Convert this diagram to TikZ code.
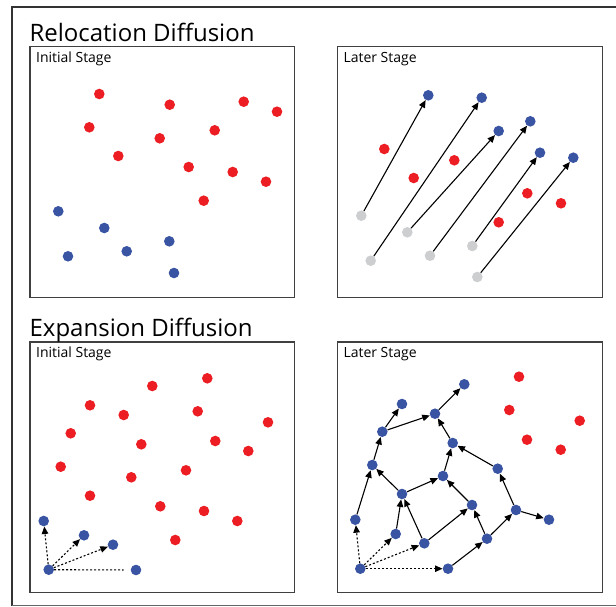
\documentclass[tikz,border=0pt]{standalone}
\usepackage{fontspec}
\setmainfont{Open Sans}
\usetikzlibrary{arrows.meta, positioning}

\definecolor{dotred}{RGB}{236,30,36}
\definecolor{dotblue}{RGB}{58,84,164}
\definecolor{dotgray}{RGB}{205,206,207}

\begin{document}
\begin{tikzpicture}[
    x=1pt, y=-1pt,
    panel/.style={draw=black!75, line width=1.2pt, minimum width=264.7pt,
                  minimum height=250.6pt, inner sep=0pt},
    heading/.style={anchor=base west, inner sep=0pt, font=\fontsize{24}{26}\selectfont},
    stage/.style={anchor=base west, inner sep=0pt, font=\fontsize{14}{16}\selectfont},
    dot/.style={circle, inner sep=0pt, minimum size=10.6pt},
    rdot/.style={dot, fill=dotred},
    bdot/.style={dot, fill=dotblue},
    gdot/.style={dot, fill=dotgray},
    move/.style={->, line width=1.1pt},
    spread/.style={->, line width=1.1pt, dash pattern=on 2pt off 2pt},
    >={Triangle[length=7.5pt, width=6.5pt]}]
  \useasboundingbox (0,0) rectangle (616,607);
  % outer frame, runs off the right edge
  \begin{scope}
    \clip (0,0) rectangle (616,607);
    \draw[black!80, line width=2pt] (625,7) -- (11.5,7) -- (11.5,605.5);
    \draw[black!60, line width=1.2pt] (11.5,605.5) -- (625,605.5);
  \end{scope}

  % panels
  \node[panel] (p1) at (162.35,172) {};
  \node[panel] (p2) at (469.8,172) {};
  \node[panel] (p3) at (162.35,467.2) {};
  \node[panel] (p4) at (469.8,467.2) {};
  \node[heading] (h1) at ([shift={(0,-5)}]p1.north west) {Relocation Diffusion};
  \node[heading] (h2) at ([shift={(0,-5)}]p3.north west) {Expansion Diffusion};
  \node[stage] (s1) at ([shift={(6.5,16)}]p1.north west) {Initial Stage};
  \node[stage] (s2) at ([shift={(6.5,16)}]p2.north west) {Later Stage};
  \node[stage] (s3) at ([shift={(6.5,16)}]p3.north west) {Initial Stage};
  \node[stage] (s4) at ([shift={(6.5,16)}]p4.north west) {Later Stage};

  % relocation, initial stage
  \foreach \x/\y [count=\i] in {99.3/94, 169.7/104.7, 243.7/101.7, 277/111.7,
      89.3/127.3, 159.7/138.3, 214.7/130.3, 118.3/156, 188.7/167, 232.7/172,
      266/181.7, 203.7/200.7}
    \node[rdot] (ri\i) at (\x,\y) {};
  \foreach \x/\y [count=\i] in {58.3/211.3, 104.3/228, 169.3/241.3, 68/256.3,
      126.7/251.3, 174/273}
    \node[bdot] (bi\i) at (\x,\y) {};

  % relocation, later stage
  \foreach \x/\y [count=\i] in {384.3/149, 413.7/178, 454.3/160.3, 527.3/193.3,
      498.7/222.3, 561/203.3}
    \node[rdot] (rl\i) at (\x,\y) {};
  \node[bdot] (b1) at (428.3,95.3) {};
  \node[bdot] (b2) at (481.7,97.7) {};
  \node[bdot] (b3) at (498.7,131) {};
  \node[bdot] (b4) at (530.3,121.3) {};
  \node[bdot] (b5) at (540,152.7) {};
  \node[bdot] (b6) at (573.3,157.7) {};
  \node[gdot] (g1) at (361.3,215.7) {};
  \node[gdot] (g2) at (370.7,260.7) {};
  \node[gdot] (g3) at (407.3,232.3) {};
  \node[gdot] (g4) at (430,255.7) {};
  \node[gdot] (g5) at (472.3,246) {};
  \node[gdot] (g6) at (477.3,277) {};
  \draw[move] (g1) -- (b1);
  \draw[move] (g2) -- (b2);
  \draw[move] (g3) -- (b3);
  \draw[move] (g4) -- (b4);
  \draw[move] (g5) -- (b5);
  \draw[move] (g6) -- (b6);

  % expansion, initial stage
  \foreach \x/\y [count=\i] in {207.3/378.3, 152.3/386, 90/405.3, 123.7/415,
      197.7/411.3, 268/422.3, 70.7/433.3, 141.3/444.3, 215.3/441, 248.3/451,
      60.7/466.7, 131.3/477.3, 186/470.3, 90/495.7, 160.3/506.3, 204/511,
      237.3/521, 175.3/540}
    \node[rdot] (re\i) at (\x,\y) {};
  \node[bdot] (o) at (48.7,569.7) {};
  \node[bdot] (e1) at (43.7,521) {};
  \node[bdot] (e2) at (84,535.3) {};
  \node[bdot] (e3) at (113,544.7) {};
  \node[bdot] (e4) at (136,570) {};
  \draw[spread] (o) -- (e1);
  \draw[spread] (o) -- (e2);
  \draw[spread] (o) -- (e3);
  \draw[spread, -, shorten >=7pt] (o) -- (e4);

  % expansion, later stage
  \foreach \x/\y [count=\i] in {519/376.7, 509.3/410, 579.7/420.7, 527/439.7,
      560.7/449.7}
    \node[rdot] (rx\i) at (\x,\y) {};
  \node[bdot] (src) at (360.3,568.7) {};
  \node[bdot] (t1) at (464.3,384.3) {};
  \node[bdot] (t2) at (402,404) {};
  \node[bdot] (t3) at (435,413.7) {};
  \node[bdot] (t4) at (382.3,431.7) {};
  \node[bdot] (t5) at (452.7,443) {};
  \node[bdot] (t6) at (372.3,465) {};
  \node[bdot] (t7) at (443,476) {};
  \node[bdot] (t8) at (497.7,468.7) {};
  \node[bdot] (t9) at (402,494) {};
  \node[bdot] (t10) at (472,505) {};
  \node[bdot] (t11) at (516,510) {};
  \node[bdot] (t12) at (549,519.7) {};
  \node[bdot] (t13) at (355.3,519.7) {};
  \node[bdot] (t14) at (395.7,534) {};
  \node[bdot] (t15) at (424.3,543.3) {};
  \node[bdot] (t16) at (487,538.7) {};
  \node[bdot] (t17) at (448,568.7) {};
  \draw[spread] (src) -- (t13);
  \draw[spread] (src) -- (t14);
  \draw[spread] (src) -- (t15);
  \draw[spread] (src) -- (t17);
  \draw[move] (t13) -- (t6);
  \draw[move] (t6) -- (t4);
  \draw[move] (t4) -- (t2);
  \draw[move] (t4) -- (t3);
  \draw[move] (t3) -- (t1);
  \draw[move] (t9) -- (t6);
  \draw[move] (t9) -- (t7);
  \draw[move] (t14) -- (t9);
  \draw[move] (t15) -- (t9);
  \draw[move] (t15) -- (t10);
  \draw[move] (t7) -- (t5);
  \draw[move] (t5) -- (t3);
  \draw[move] (t10) -- (t7);
  \draw[move] (t16) -- (t10);
  \draw[move] (t17) -- (t16);
  \draw[move] (t16) -- (t11);
  \draw[move] (t11) -- (t8);
  \draw[move] (t11) -- (t12);
  \draw[move] (t8) -- (t5);
\end{tikzpicture}
\end{document}
